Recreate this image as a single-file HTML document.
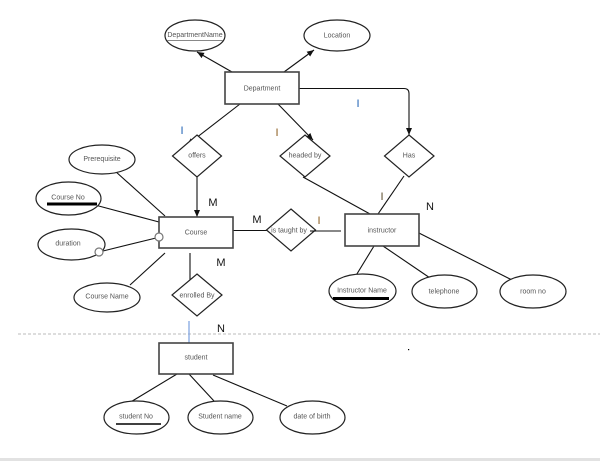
<!DOCTYPE html>
<html><head><meta charset="utf-8"><style>
html,body{margin:0;padding:0;background:#fff;}
svg{display:block;}
.t{font-family:"Liberation Sans",sans-serif;font-size:7px;fill:#555;text-anchor:middle;dominant-baseline:central;}
.b{font-family:"Liberation Sans",sans-serif;font-size:11px;fill:#111;text-anchor:middle;dominant-baseline:central;}
.e{fill:#fff;stroke:#222;stroke-width:1.2;}
.r{fill:#fff;stroke:#444;stroke-width:1.6;}
.l{stroke:#111;stroke-width:1.1;fill:none;}
</style></head><body>
<svg width="600" height="461" viewBox="0 0 600 461" xmlns="http://www.w3.org/2000/svg">
<defs>
<marker id="a" markerWidth="8" markerHeight="8" refX="7" refY="4" orient="auto" markerUnits="userSpaceOnUse">
<path d="M0,1 L7,4 L0,7 z" fill="#111"/>
</marker>
</defs>
<rect x="0" y="458" width="600" height="3" fill="#e2e2e2"/>
<line x1="18" y1="334" x2="600" y2="334" stroke="#bbb" stroke-width="1" stroke-dasharray="3,2"/>

<!-- connectors -->
<line class="l" x1="232" y1="72" x2="197" y2="52" marker-end="url(#a)"/>
<line class="l" x1="284" y1="72" x2="314" y2="50" marker-end="url(#a)"/>
<path class="l" d="M299,88.5 H404 Q409,88.5 409,93.5 V135" marker-end="url(#a)"/>
<line class="l" x1="240" y1="104" x2="187" y2="145" marker-end="url(#a)"/>
<line class="l" x1="278" y1="104" x2="313" y2="140" marker-end="url(#a)"/>
<line class="l" x1="197" y1="177" x2="197" y2="217" marker-end="url(#a)"/>
<line class="l" x1="115" y1="171" x2="165" y2="216"/>
<line class="l" x1="95" y1="205" x2="159" y2="222"/>
<line class="l" x1="103" y1="251" x2="156" y2="238"/>
<line class="l" x1="130" y1="285" x2="165" y2="253"/>
<line class="l" x1="190" y1="253" x2="190" y2="280"/>
<line x1="189" y1="321" x2="189" y2="349" stroke="#7aa0e0" stroke-width="1.2"/>
<line class="l" x1="227" y1="230.5" x2="267" y2="230.5"/>
<line class="l" x1="310" y1="231" x2="341" y2="231"/>
<line class="l" x1="303" y1="177" x2="370" y2="214"/>
<line class="l" x1="404" y1="176" x2="378" y2="214"/>
<line class="l" x1="374" y1="246" x2="352" y2="282"/>
<line class="l" x1="383" y1="246" x2="433" y2="280"/>
<line class="l" x1="413" y1="230" x2="516" y2="282"/>
<line class="l" x1="177" y1="374" x2="129" y2="403"/>
<line class="l" x1="189" y1="374" x2="214" y2="401"/>
<line class="l" x1="213" y1="375" x2="287" y2="406"/>

<!-- entities -->
<rect class="r" x="225" y="72" width="74" height="32"/>
<text class="t" x="262" y="89">Department</text>
<rect class="r" x="159" y="217" width="74" height="31"/>
<text class="t" x="196" y="233">Course</text>
<rect class="r" x="345" y="214" width="74" height="32"/>
<text class="t" x="382" y="231">instructor</text>
<rect class="r" x="159" y="343" width="74" height="31"/>
<text class="t" x="196" y="358">student</text>

<!-- relationships -->
<polygon class="e" points="197,135 221.5,156 197,177 172.5,156"/>
<text class="t" x="197" y="156">offers</text>
<polygon class="e" points="305,135 330,156 305,177 280,156"/>
<text class="t" x="305" y="156">headed by</text>
<polygon class="e" points="409,135 434,156 409,177 384.5,156"/>
<text class="t" x="409" y="156">Has</text>
<polygon class="e" points="291,209 315.5,230 291,251 266.5,230"/>
<line class="l" x1="310" y1="231" x2="316" y2="231"/>
<text class="t" x="289" y="231">is taught by</text>
<polygon class="e" points="197,274 222,295 197,316 172,295"/>
<text class="t" x="197" y="296">enrolled By</text>

<!-- attributes -->
<ellipse class="e" cx="195" cy="35.5" rx="30" ry="15.5"/>
<text class="t" x="195" y="35.5" text-decoration="underline">DepartmentName</text>
<ellipse class="e" cx="337" cy="35.5" rx="33" ry="15.5"/>
<text class="t" x="337" y="36">Location</text>
<ellipse class="e" cx="102" cy="159.5" rx="33" ry="14.5"/>
<text class="t" x="102" y="159.5">Prerequisite</text>
<ellipse class="e" cx="68.5" cy="198.5" rx="32.5" ry="16.5"/>
<text class="t" x="68" y="198">Course No</text>
<line x1="47" y1="204" x2="97" y2="204" stroke="#000" stroke-width="3"/>
<ellipse class="e" cx="71.5" cy="244.5" rx="33.5" ry="15.5"/>
<text class="t" x="68" y="244">duration</text>
<circle cx="99" cy="252" r="4" fill="#fff" stroke="#777" stroke-width="1.2"/>
<circle cx="159" cy="237" r="4" fill="#fff" stroke="#777" stroke-width="1.2"/>
<ellipse class="e" cx="107" cy="297.5" rx="33" ry="14.5"/>
<text class="t" x="107" y="297">Course Name</text>
<ellipse class="e" cx="362.5" cy="291" rx="33.5" ry="17"/>
<text class="t" x="362" y="291">Instructor Name</text>
<line x1="333" y1="298.5" x2="389" y2="298.5" stroke="#000" stroke-width="3"/>
<ellipse class="e" cx="444.5" cy="291.5" rx="32.5" ry="16.5"/>
<text class="t" x="444" y="292">telephone</text>
<ellipse class="e" cx="533" cy="291.5" rx="33" ry="16.5"/>
<text class="t" x="533" y="292">room no</text>
<ellipse class="e" cx="136.5" cy="417.5" rx="32.5" ry="16.5"/>
<text class="t" x="136" y="417">student No</text>
<line x1="116" y1="424" x2="161" y2="424" stroke="#000" stroke-width="1.5"/>
<ellipse class="e" cx="220.5" cy="417.5" rx="32.5" ry="16.5"/>
<text class="t" x="220" y="417">Student name</text>
<ellipse class="e" cx="312.5" cy="417.5" rx="32.5" ry="16.5"/>
<text class="t" x="312" y="417">date of birth</text>

<!-- cardinalities -->
<text class="b" x="358" y="104" style="fill:#1a5fb4">I</text>
<text class="b" x="182" y="131" style="fill:#1a5fb4">I</text>
<text class="b" x="277" y="133" style="fill:#8a5a1a">I</text>
<text class="b" x="382" y="197" style="fill:#5a4a2a">I</text>
<text class="b" x="319" y="221" style="fill:#8a5a1a">I</text>
<text class="b" x="213" y="203">M</text>
<text class="b" x="257" y="220">M</text>
<text class="b" x="221" y="263">M</text>
<text class="b" x="430" y="207">N</text>
<text class="b" x="221" y="329">N</text>
<rect x="408" y="349" width="1.2" height="1.2" fill="#000"/>
</svg>
</body></html>
